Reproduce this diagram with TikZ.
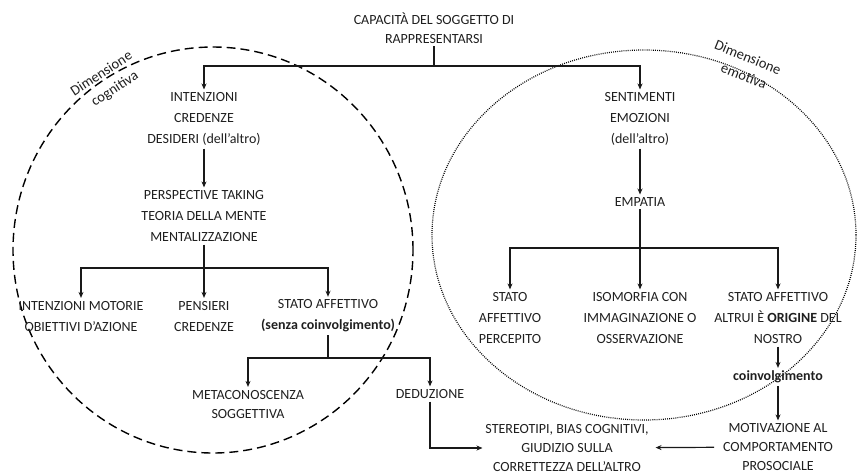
\documentclass[tikz,border=0pt]{standalone}
\usepackage{fontspec}
\setmainfont{Carlito}
\usetikzlibrary{arrows.meta}
\begin{document}
\begin{tikzpicture}[x=1pt,y=-1pt,
  txt/.style={font=\fontsize{14}{21}\selectfont, align=center, inner sep=0pt, outer sep=3pt, text=black!88},
  tight/.style={txt, font=\fontsize{14}{19}\selectfont},
  link/.style={line width=1.2pt, draw=black!90},
  arr/.style={link, -{Stealth[length=6pt,width=5pt]}},
  lbl/.style={font=\fontsize{14.5}{15}\selectfont, inner sep=0pt, text=black!88}]
\useasboundingbox (0,0) rectangle (860,475);

% the two dimensions
\draw[line width=1.4pt, dash pattern=on 9pt off 5pt] (213,250) ellipse [x radius=200pt, y radius=203pt];
\draw[line width=1.2pt, dash pattern=on 0.9pt off 1.2pt] (644,235) ellipse [x radius=212pt, y radius=185pt];
\node[lbl, rotate=33] (dimc1) at (101,73) {Dimensione};
\node[lbl, rotate=33] (dimc2) at (115,89) {cognitiva};
\node[lbl, rotate=-22] (dime1) at (748,57) {Dimensione};
\node[lbl, rotate=-22] (dime2) at (744,76) {emotiva};

% root
\node[tight] (root) at (434,28) {CAPACITÀ DEL SOGGETTO DI\\RAPPRESENTARSI};

% cognitive branch
\node[txt] (intA) at (204,119) {INTENZIONI\\CREDENZE\\DESIDERI (dell’altro)};
\node[txt] (persp) at (204,216) {PERSPECTIVE TAKING\\TEORIA DELLA MENTE\\MENTALIZZAZIONE};
\node[txt] (motor) at (81,316) {INTENZIONI MOTORIE\\OBIETTIVI D’AZIONE};
\node[txt] (pens) at (204,316) {PENSIERI\\CREDENZE};
\node[txt] (stato) at (328,316) {STATO AFFETTIVO\\\textbf{(senza coinvolgimento)}};
\node[tight] (meta) at (248,404) {METACONOSCENZA\\SOGGETTIVA};
\node[txt] (dedu) at (430,394) {DEDUZIONE};

% emotional branch
\node[txt] (sent) at (640,119) {SENTIMENTI\\EMOZIONI\\(dell’altro)};
\node[txt] (emp) at (640,202) {EMPATIA};
\node[txt] (perc) at (510,318) {STATO\\AFFETTIVO\\PERCEPITO};
\node[txt] (iso) at (640,318) {ISOMORFIA CON\\IMMAGINAZIONE O\\OSSERVAZIONE};
\node[txt] (orig) at (778,318) {STATO AFFETTIVO\\ALTRUI È \textbf{ORIGINE} DEL\\NOSTRO};
\node[txt] (coinv) at (778,377) {\textbf{coinvolgimento}};
\node[tight] (motiv) at (778,447) {MOTIVAZIONE AL\\COMPORTAMENTO\\PROSOCIALE};
\node[tight] (stereo) at (567,448) {STEREOTIPI, BIAS COGNITIVI,\\GIUDIZIO SULLA\\CORRETTEZZA DELL’ALTRO};

% junctions
\coordinate (j1) at (434,66);
\coordinate (j2) at (204,268);
\coordinate (j3) at (328,358);
\coordinate (j4) at (640,248);

% connectors
\draw[link] (root) -- (j1);
\draw[arr] (j1) -| (intA);
\draw[arr] (j1) -| (sent);
\draw[arr] (intA) -- (persp);
\draw[link] (persp) -- (j2);
\draw[arr] (j2) -| (motor);
\draw[arr] (j2) -- (pens);
\draw[arr] (j2) -| (stato);
\draw[link] (stato) -- (j3);
\draw[arr] (j3) -| (meta);
\draw[arr] (j3) -| (dedu);
\draw[arr] (dedu) |- (stereo);
\draw[arr] (sent) -- (emp);
\draw[link] (emp) -- (j4);
\draw[arr] (j4) -| (perc);
\draw[arr] (j4) -- (iso);
\draw[arr] (j4) -| (orig);
\draw[arr] (orig) -- (coinv);
\draw[arr] (coinv) -- (motiv);
\draw[arr, shorten <=6pt, shorten >=4pt] (motiv) -- (stereo);
\end{tikzpicture}
\end{document}
